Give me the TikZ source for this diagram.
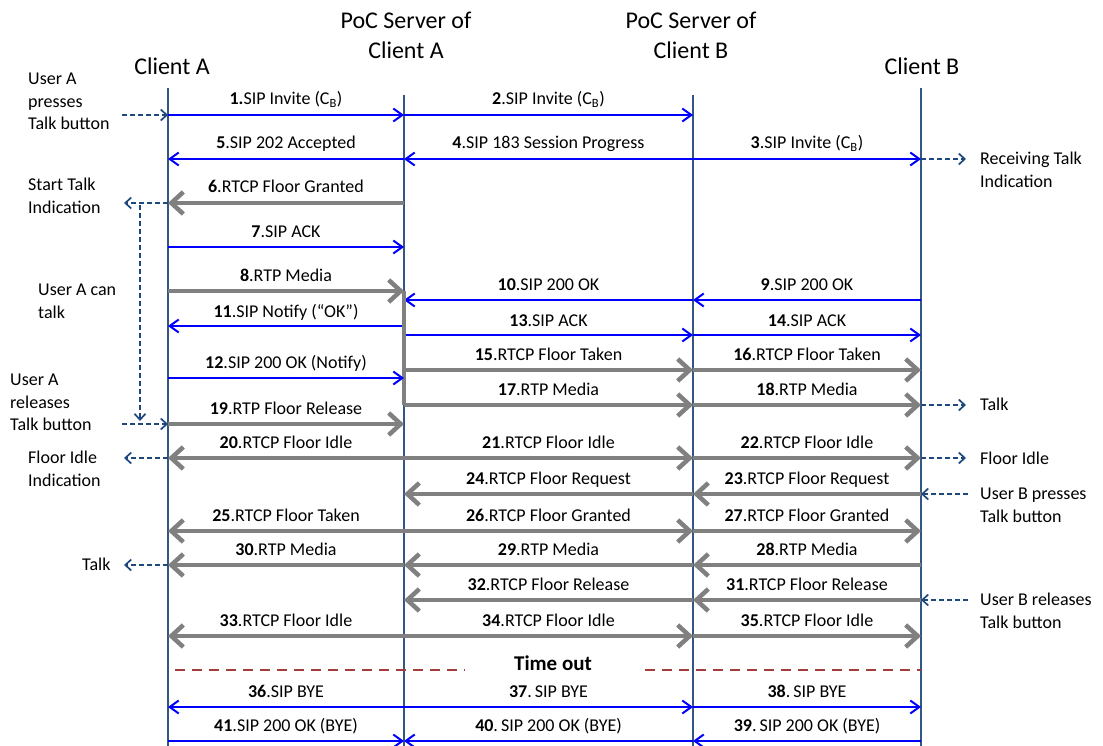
\documentclass[tikz,border=0pt]{standalone}
\usepackage{fontspec}
\setmainfont{Carlito}
\usetikzlibrary{arrows.meta}

\definecolor{sipblue}{RGB}{0,0,255}
\definecolor{rtpgray}{RGB}{128,128,128}
\definecolor{lifeblue}{RGB}{52,86,130}
\definecolor{evtblue}{RGB}{31,73,125}
\definecolor{tored}{RGB}{165,60,60}

\tikzset{
  lifeline/.style={draw=lifeblue, line width=2.2pt},
  sipmsg/.style={draw=sipblue, line width=2pt, -{Straight Barb[length=9pt,width=13pt]}},
  rtpmsg/.style={draw=rtpgray, line width=4.5pt, -{Straight Barb[length=12pt,width=22pt]}},
  rtpjoin/.style={draw=rtpgray, line width=4.5pt},
  userevt/.style={draw=evtblue, line width=1.7pt, dash pattern=on 5pt off 3pt, -{Straight Barb[length=6pt,width=11pt]}},
  timeout/.style={draw=tored, line width=2pt, dash pattern=on 10pt off 7pt},
  msglabel/.style={midway, anchor=base, yshift=10pt, inner sep=0pt, font=\fontsize{18}{22.5}\selectfont},
  annot/.style={anchor=north west, align=left, inner sep=0pt, font=\fontsize{18}{22.5}\selectfont},
  headtxt/.style={align=center, inner sep=0pt, font=\fontsize{24}{30}\selectfont}
}

\begin{document}
\begin{tikzpicture}[x=1pt,y=1pt,yscale=-1,xscale=1]
\path[use as bounding box] (0,0) rectangle (1103,746);

% Lifelines
\coordinate (ca) at (168,0);
\coordinate (sa) at (404,0);
\coordinate (sb) at (693,0);
\coordinate (cb) at (921,0);
\coordinate (bottom) at (0,746);
\draw[lifeline] (ca |- 0,88) -- (ca |- bottom);
\draw[lifeline] (sa |- 0,95) -- (sa |- bottom);
\draw[lifeline] (sb |- 0,95) -- (sb |- bottom);
\draw[lifeline] (cb |- 0,88) -- (cb |- bottom);

% Text Node
\node[headtxt] (hCA) at (172,66) {Client A};
% Text Node
\node[headtxt] (hSA) at (406,35) {PoC Server of\\Client A};
% Text Node
\node[headtxt] (hSB) at (691,35) {PoC Server of\\Client B};
% Text Node
\node[headtxt] (hCB) at (922,66) {Client B};

% Message rows
\coordinate (rInvite) at (0,115);
\coordinate (rAccept) at (0,159);
\coordinate (rGrant) at (0,203);
\coordinate (rAck) at (0,247);
\coordinate (rMedia) at (0,291);
\coordinate (rOk) at (0,300);
\coordinate (rNotify) at (0,326);
\coordinate (rAckB) at (0,335);
\coordinate (rTaken) at (0,370);
\coordinate (rNotOk) at (0,378);
\coordinate (rMediaB) at (0,405);
\coordinate (rRelease) at (0,424);
\coordinate (rIdle) at (0,458);
\coordinate (rRequest) at (0,494);
\coordinate (rGranted) at (0,531);
\coordinate (rTalkB) at (0,565);
\coordinate (rReleaseB) at (0,600);
\coordinate (rIdleB) at (0,636);
\coordinate (rTimeout) at (0,670);
\coordinate (rBye) at (0,707);
\coordinate (rByeOk) at (0,741);

%Straight Lines
\draw[sipmsg] (ca |- rInvite) -- (sa |- rInvite) node[msglabel] (m1) {\textbf{1.}SIP Invite (C\textsubscript{B})};
\draw[sipmsg] (sa |- rInvite) -- (sb |- rInvite) node[msglabel] (m2) {\textbf{2}.SIP Invite (C\textsubscript{B})};
\draw[sipmsg] (sb |- rAccept) -- (cb |- rAccept) node[msglabel] (m3) {\textbf{3}.SIP Invite (C\textsubscript{B})};
\draw[sipmsg] (sb |- rAccept) -- (sa |- rAccept) node[msglabel] (m4) {\textbf{4}.SIP 183 Session Progress};
\draw[sipmsg] (sa |- rAccept) -- (ca |- rAccept) node[msglabel] (m5) {\textbf{5}.SIP 202 Accepted};
\draw[rtpmsg] (sa |- rGrant) -- (ca |- rGrant) node[msglabel] (m6) {\textbf{6}.RTCP Floor Granted};
\draw[sipmsg] (ca |- rAck) -- (sa |- rAck) node[msglabel] (m7) {\textbf{7}.SIP ACK};
\draw[rtpmsg] (ca |- rMedia) -- (sa |- rMedia) node[msglabel] (m8) {\textbf{8}.RTP Media};
\draw[sipmsg] (cb |- rOk) -- (sb |- rOk) node[msglabel] (m9) {\textbf{9}.SIP 200 OK};
\draw[sipmsg] (sb |- rOk) -- (sa |- rOk) node[msglabel] (m10) {\textbf{10}.SIP 200 OK};
\draw[sipmsg] (sa |- rNotify) -- (ca |- rNotify) node[msglabel, yshift=-1pt] (m11) {\textbf{11}.SIP Notify (“OK”)};
\draw[sipmsg] (sa |- rAckB) -- (sb |- rAckB) node[msglabel, yshift=-1pt] (m13) {\textbf{13}.SIP ACK};
\draw[sipmsg] (sb |- rAckB) -- (cb |- rAckB) node[msglabel, yshift=-1pt] (m14) {\textbf{14}.SIP ACK};
\draw[rtpjoin] (sa |- rMedia) -- (sa |- rMediaB);
\draw[rtpmsg] (sa |- rTaken) -- (sb |- rTaken) node[msglabel] (m15) {\textbf{15}.RTCP Floor Taken};
\draw[rtpmsg] (sb |- rTaken) -- (cb |- rTaken) node[msglabel] (m16) {\textbf{16}.RTCP Floor Taken};
\draw[sipmsg] (ca |- rNotOk) -- (sa |- rNotOk) node[msglabel] (m12) {\textbf{12}.SIP 200 OK (Notify)};
\draw[rtpmsg] (sa |- rMediaB) -- (sb |- rMediaB) node[msglabel] (m17) {\textbf{17}.RTP Media};
\draw[rtpmsg] (sb |- rMediaB) -- (cb |- rMediaB) node[msglabel] (m18) {\textbf{18}.RTP Media};
\draw[rtpmsg] (ca |- rRelease) -- (sa |- rRelease) node[msglabel] (m19) {\textbf{19}.RTP Floor Release};
\draw[rtpmsg] (sa |- rIdle) -- (ca |- rIdle) node[msglabel] (m20) {\textbf{20}.RTCP Floor Idle};
\draw[rtpmsg] (sa |- rIdle) -- (sb |- rIdle) node[msglabel] (m21) {\textbf{21}.RTCP Floor Idle};
\draw[rtpmsg] (sb |- rIdle) -- (cb |- rIdle) node[msglabel] (m22) {\textbf{22}.RTCP Floor Idle};
\draw[rtpmsg] (cb |- rRequest) -- (sb |- rRequest) node[msglabel] (m23) {\textbf{23}.RTCP Floor Request};
\draw[rtpmsg] (sb |- rRequest) -- (sa |- rRequest) node[msglabel] (m24) {\textbf{24}.RTCP Floor Request};
\draw[rtpmsg] (sa |- rGranted) -- (ca |- rGranted) node[msglabel] (m25) {\textbf{25}.RTCP Floor Taken};
\draw[rtpmsg] (sa |- rGranted) -- (sb |- rGranted) node[msglabel] (m26) {\textbf{26}.RTCP Floor Granted};
\draw[rtpmsg] (sb |- rGranted) -- (cb |- rGranted) node[msglabel] (m27) {\textbf{27}.RTCP Floor Granted};
\draw[rtpmsg] (cb |- rTalkB) -- (sb |- rTalkB) node[msglabel] (m28) {\textbf{28}.RTP Media};
\draw[rtpmsg] (sb |- rTalkB) -- (sa |- rTalkB) node[msglabel] (m29) {\textbf{29}.RTP Media};
\draw[rtpmsg] (sa |- rTalkB) -- (ca |- rTalkB) node[msglabel] (m30) {\textbf{30}.RTP Media};
\draw[rtpmsg] (cb |- rReleaseB) -- (sb |- rReleaseB) node[msglabel] (m31) {\textbf{31}.RTCP Floor Release};
\draw[rtpmsg] (sb |- rReleaseB) -- (sa |- rReleaseB) node[msglabel] (m32) {\textbf{32}.RTCP Floor Release};
\draw[rtpmsg] (sa |- rIdleB) -- (ca |- rIdleB) node[msglabel] (m33) {\textbf{33}.RTCP Floor Idle};
\draw[rtpmsg] (sa |- rIdleB) -- (sb |- rIdleB) node[msglabel] (m34) {\textbf{34}.RTCP Floor Idle};
\draw[rtpmsg] (sb |- rIdleB) -- (cb |- rIdleB) node[msglabel] (m35) {\textbf{35}.RTCP Floor Idle};
\draw[sipmsg] (sa |- rBye) -- (ca |- rBye) node[msglabel] (m36) {\textbf{36}.SIP BYE};
\draw[sipmsg] (sa |- rBye) -- (sb |- rBye) node[msglabel] (m37) {\textbf{37}.\,SIP BYE};
\draw[sipmsg] (sb |- rBye) -- (cb |- rBye) node[msglabel] (m38) {\textbf{38}.\,SIP BYE};
\draw[sipmsg] (cb |- rByeOk) -- (sb |- rByeOk) node[msglabel] (m39) {\textbf{39}.\,SIP 200 OK (BYE)};
\draw[sipmsg] (sb |- rByeOk) -- (sa |- rByeOk) node[msglabel] (m40) {\textbf{40}.\,SIP 200 OK (BYE)};
\draw[sipmsg] (ca |- rByeOk) -- (sa |- rByeOk) node[msglabel] (m41) {\textbf{41}.SIP 200 OK (BYE)};

% Time out
\coordinate (toA) at (175,670);
\coordinate (toB) at (465,670);
\coordinate (toC) at (645,670);
\draw[timeout] (toA) -- (toB);
\draw[timeout] (toC) -- (cb |- rTimeout);
\node[font=\fontsize{21}{24}\selectfont\bfseries, inner sep=0pt] (tOut) at (553,663) {Time out};

% Text Node
\node[annot] (aPress) at (28,73) {User A\\presses\\Talk button};
\node[annot] (aStart) at (28,178) {Start Talk\\Indication};
\node[annot] (aCanTalk) at (38,284) {User A can\\talk};
\node[annot] (aRelease) at (10,374) {User A\\releases\\Talk button};
\node[annot] (aIdleA) at (28,451) {Floor Idle\\Indication};
\node[annot] (aTalkA) at (82,558) {Talk};
\node[annot] (aRecv) at (980,152) {Receiving Talk\\Indication};
\node[annot] (aTalkB) at (980,398) {Talk};
\node[annot] (aIdleB) at (980,452) {Floor Idle};
\node[annot] (aPressB) at (980,488) {User B presses\\Talk button};
\node[annot] (aReleaseB) at (980,593) {User B releases\\Talk button};

% User events
\coordinate (ePress) at (122,115);
\coordinate (eStart) at (124,203);
\coordinate (eStartV) at (140,205);
\coordinate (eRelV) at (140,421);
\coordinate (eRelease) at (122,424);
\coordinate (eIdleA) at (124,458);
\coordinate (eTalkA) at (124,565);
\coordinate (eRecv) at (966,159);
\coordinate (eTalkB) at (966,405);
\coordinate (eIdleB) at (966,458);
\coordinate (ePressB) at (968,494);
\coordinate (eReleaseB) at (968,600);
\draw[userevt] (ePress) -- (ca |- ePress);
\draw[userevt] (ca |- eStart) -- (eStart);
\draw[userevt] (eStartV) -- (eRelV);
\draw[userevt] (eRelease) -- (ca |- eRelease);
\draw[userevt] (ca |- eIdleA) -- (eIdleA);
\draw[userevt] (ca |- eTalkA) -- (eTalkA);
\draw[userevt] (cb |- eRecv) -- (eRecv);
\draw[userevt] (cb |- eTalkB) -- (eTalkB);
\draw[userevt] (cb |- eIdleB) -- (eIdleB);
\draw[userevt] (ePressB) -- (cb |- ePressB);
\draw[userevt] (eReleaseB) -- (cb |- eReleaseB);

\end{tikzpicture}
\end{document}
